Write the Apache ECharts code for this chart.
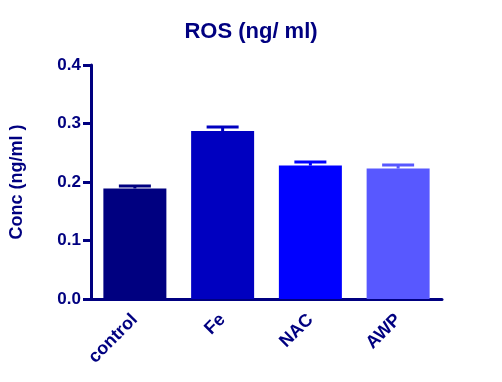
<!DOCTYPE html>
<html>
<head>
<meta charset="utf-8">
<script src="https://cdn.jsdelivr.net/npm/echarts@6/dist/echarts.min.js"></script>
<style>html,body{margin:0;padding:0;background:#fff}#c{width:502px;height:382px}</style>
</head>
<body>
<div id="c"></div>
<script>
const categories = ['control', 'Fe', 'NAC', 'AWP'];
const means = [0.189, 0.287, 0.228, 0.223];
const errors = [0.004, 0.007, 0.006, 0.006];
const barColors = ['#000080', '#0000C0', '#0000FF', '#5858FF'];
const yTicks = [0, 0.1, 0.2, 0.3, 0.4];

const navy = '#000080';
const font = 'Liberation Sans, Arial, sans-serif';
const chart = echarts.init(document.getElementById('c'), null, {renderer: 'canvas'});

chart.setOption({
  animation: false,
  backgroundColor: '#fff',
  title: {
    text: 'ROS (ng/ ml)',
    left: 246, top: 16, textAlign: 'center',
    textStyle: {color: navy, fontFamily: font, fontWeight: 'bold', fontSize: 22}
  },
  grid: {left: 90, right: 60, top: 65, bottom: 83, containLabel: false},
  xAxis: {
    type: 'category',
    data: categories,
    axisLine: {lineStyle: {color: navy, width: 3}},
    axisTick: {alignWithLabel: true, length: 8, lineStyle: {color: navy, width: 3}},
    axisLabel: {rotate: 45, margin: 18, color: navy, fontFamily: font, fontWeight: 'bold', fontSize: 18},
    splitLine: {show: false}
  },
  yAxis: {
    type: 'value',
    min: yTicks[0], max: yTicks[yTicks.length - 1], interval: 0.1,
    name: 'Conc (ng/ml )',
    nameLocation: 'middle', nameGap: 65, nameRotate: 90,
    nameTextStyle: {color: navy, fontFamily: font, fontWeight: 'bold', fontSize: 18},
    axisLine: {show: true, lineStyle: {color: navy, width: 3}},
    axisTick: {show: true, length: 8, lineStyle: {color: navy, width: 3}},
    axisLabel: {margin: 10, color: navy, fontFamily: font, fontWeight: 'bold', fontSize: 17,
      formatter: v => v.toFixed(1)},
    splitLine: {show: false}
  },
  series: [
    {
      type: 'bar',
      barWidth: 63,
      data: means.map((v, i) => ({value: v, itemStyle: {color: barColors[i]}})),
      z: 2
    },
    {
      type: 'custom',
      z: 3,
      data: means.map((v, i) => [i, v, errors[i]]),
      renderItem: function (params, api) {
        const idx = api.value(0);
        const m = api.value(1);
        const e = api.value(2);
        const base = api.coord([idx, m]);
        const top = api.coord([idx, m + e]);
        const color = barColors[params.dataIndex];
        const half = 16;
        return {
          type: 'group',
          children: [
            {type: 'line', shape: {x1: base[0], y1: base[1], x2: top[0], y2: top[1]},
              style: {stroke: color, lineWidth: 3}},
            {type: 'line', shape: {x1: top[0] - half, y1: top[1], x2: top[0] + half, y2: top[1]},
              style: {stroke: color, lineWidth: 3}}
          ]
        };
      }
    }
  ]
});
</script>
</body>
</html>
